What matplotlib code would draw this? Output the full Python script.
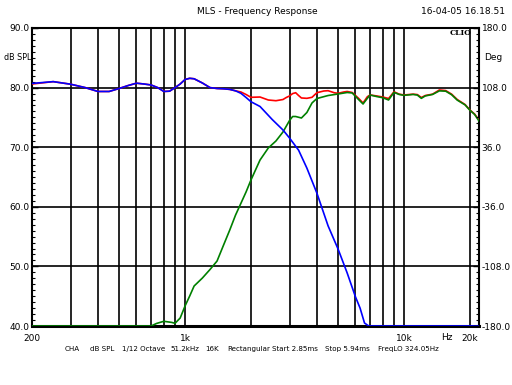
import matplotlib
matplotlib.use("Agg")
import matplotlib.pyplot as plt
import numpy as np

# red: total response
red_freq = [200, 250, 300, 350, 400, 450, 500, 550, 600, 650, 700, 750, 800, 850, 900, 950,
            1000, 1050, 1100, 1200, 1300, 1400, 1500, 1600, 1700, 1800, 1900, 2000, 2200, 2400,
            2600, 2800, 2900, 3000, 3100, 3200, 3300, 3400, 3600, 3800, 4000, 4300, 4500, 4800,
            5000, 5300, 5500, 5800, 6200, 6500, 6800, 7000, 7500, 8000, 8500, 9000, 9500, 10000,
            11000, 11500, 12000, 12500, 13500, 14500, 15500, 16500, 17500, 19000, 20000, 21000, 22000]
red_db = [80.6, 81.0, 80.57, 80.0, 79.35, 79.35, 79.85, 80.35, 80.74, 80.6, 80.44, 80.0, 79.35, 79.4, 80.0, 80.6,
          81.36, 81.56, 81.48, 80.77, 80.0, 79.85, 79.8, 79.7, 79.46, 79.26, 78.84, 78.37, 78.42, 77.92,
          77.8, 78.0, 78.34, 78.6, 79.0, 79.14, 78.67, 78.26, 78.2, 78.37, 79.14, 79.43, 79.48, 79.14,
          79.04, 79.26, 79.35, 79.18, 78.2, 77.42, 78.47, 78.76, 78.6, 78.42, 78.17, 79.3, 78.9, 78.76,
          78.9, 78.83, 78.34, 78.67, 78.9, 79.6, 79.5, 78.9, 78.0, 77.16, 76.24, 75.57, 74.56]

# blue: woofer (low pass)
blue_freq = [200, 250, 300, 350, 400, 450, 500, 550, 600, 650, 700, 750, 800, 850, 900, 950,
             1000, 1050, 1100, 1200, 1300, 1400, 1500, 1600, 1700, 1800, 1900, 2000, 2200, 2500,
             2800, 3000, 3300, 3600, 4000, 4500, 5000, 5500, 6000, 6300, 6600, 6900, 10000, 22000]
blue_db = [80.7, 81.0, 80.57, 80.0, 79.35, 79.35, 79.85, 80.35, 80.74, 80.6, 80.44, 80.0, 79.35, 79.4, 80.0, 80.6,
           81.36, 81.56, 81.48, 80.77, 80.0, 79.85, 79.8, 79.7, 79.46, 79.04, 78.34, 77.63, 76.83, 74.65,
           72.89, 71.54, 69.5, 66.5, 62.3, 56.8, 52.9, 48.9, 44.9, 43.0, 40.5, 40.0, 40.0, 40.0]

# green: tweeter (high pass)
green_freq = [200, 700, 740, 800, 870, 900, 950, 1000, 1050, 1100, 1200, 1300, 1400, 1500, 1600,
              1700, 1800, 1900, 2000, 2200, 2400, 2600, 2800, 3000, 3100, 3200, 3400, 3600, 3800,
              4000, 4500, 5000, 5500, 5800, 6200, 6500, 6800, 7000, 7500, 8000, 8500, 9000, 9500,
              10000, 11000, 11500, 12000, 12500, 13500, 14500, 15500, 16500, 17500, 19000, 20000,
              21000, 22000]
green_db = [40.0, 40.0, 40.42, 40.79, 40.6, 40.45, 41.34, 43.36, 45.03, 46.71, 48.05, 49.48, 50.9, 53.6, 56.1,
            58.6, 60.6, 62.5, 64.5, 67.85, 69.87, 71.04, 72.55, 74.48, 75.15, 75.15, 74.9, 75.82, 77.42,
            78.17, 78.67, 78.93, 79.18, 79.1, 78.0, 77.25, 78.2, 78.76, 78.5, 78.3, 77.92, 79.2, 78.85,
            78.7, 78.85, 78.75, 78.2, 78.6, 78.85, 79.45, 79.4, 78.8, 77.9, 77.1, 76.2, 75.5, 74.4]

grid_freq = [300, 400, 500, 600, 700, 800, 900, 1000, 2000, 3000, 4000, 5000, 6000, 7000,
             8000, 9000, 10000, 20000]
xtick_freq = [200, 1000, 10000, 20000]
xtick_labels = ["200", "1k", "10k", "20k"]

# bottom status line: (text, left pixel)
status_items = [("CHA", 65), ("dB SPL", 90), ("1/12 Octave", 122), ("51.2kHz", 170), ("16K", 205),
                ("Rectangular", 227), ("Start 2.85ms", 272), ("Stop 5.94ms", 325), ("FreqLO 324.05Hz", 378)]

fs = 6.5
fig = plt.figure(figsize=(5.12, 3.85), dpi=100)
ax = fig.add_axes([32 / 512, 1 - 326 / 385, 447 / 512, 298 / 385])

ax.plot(red_freq, red_db, color="#ff0000", lw=1.2, zorder=3)
ax.plot(green_freq, green_db, color="#008000", lw=1.2, zorder=4)
ax.plot(blue_freq, blue_db, color="#0000ff", lw=1.2, zorder=5)

ax.set_xscale("log")
ax.set_xlim(200, 22000)
ax.set_ylim(40, 90)
for g in grid_freq:
    ax.axvline(g, color="black", lw=1.2, zorder=1)
for v in [50, 60, 70, 80]:
    ax.axhline(v, color="black", lw=1.2, zorder=1)

ax.set_xticks(xtick_freq)
ax.set_xticklabels(xtick_labels, fontsize=fs)
ax.xaxis.set_minor_locator(matplotlib.ticker.NullLocator())
ax.tick_params(axis="x", length=0, pad=6)
ax.set_yticks(np.arange(40, 91, 10))
ax.set_yticklabels(["%.1f" % v for v in np.arange(40, 91, 10)], fontsize=fs)
ax.set_yticks(np.arange(40, 91, 1), minor=True)
ax.tick_params(axis="y", which="major", direction="in", length=4, width=1, pad=2)
ax.tick_params(axis="y", which="minor", direction="in", length=2, width=0.8)
for s in ax.spines.values():
    s.set_linewidth(1.5)
ax.spines["bottom"].set_linewidth(2.2)

ax2 = ax.twinx()
ax2.set_ylim(-180, 180)
deg_ticks = np.arange(-180, 181, 72)
ax2.set_yticks(deg_ticks)
ax2.set_yticklabels(["%.1f" % v for v in deg_ticks], fontsize=fs)
ax2.set_yticks(np.arange(-180, 181, 7.2), minor=True)
ax2.tick_params(axis="y", which="major", direction="in", length=4, width=1, pad=2)
ax2.tick_params(axis="y", which="minor", direction="in", length=2, width=0.8)
for s in ax2.spines.values():
    s.set_visible(False)

fig.text(257 / 512, 1 - 12 / 385, "MLS - Frequency Response", ha="center", va="center", fontsize=fs)
fig.text(505 / 512, 1 - 12 / 385, "16-04-05 16.18.51", ha="right", va="center", fontsize=fs)
fig.text(472 / 512, 1 - 33 / 385, "CLIO", ha="right", va="center", fontsize=5.5, family="DejaVu Serif", weight="bold")
fig.text(4 / 512, 1 - 58 / 385, "dB SPL", ha="left", va="center", fontsize=5.8)
fig.text(484 / 512, 1 - 58 / 385, "Deg", ha="left", va="center", fontsize=fs)
fig.text(447 / 512, 1 - 338 / 385, "Hz", ha="center", va="center", fontsize=fs)
for label, px in status_items:
    fig.text(px / 512, 1 - 349 / 385, label, ha="left", va="center", fontsize=5.1)

fig.savefig("out.png", dpi=100)
